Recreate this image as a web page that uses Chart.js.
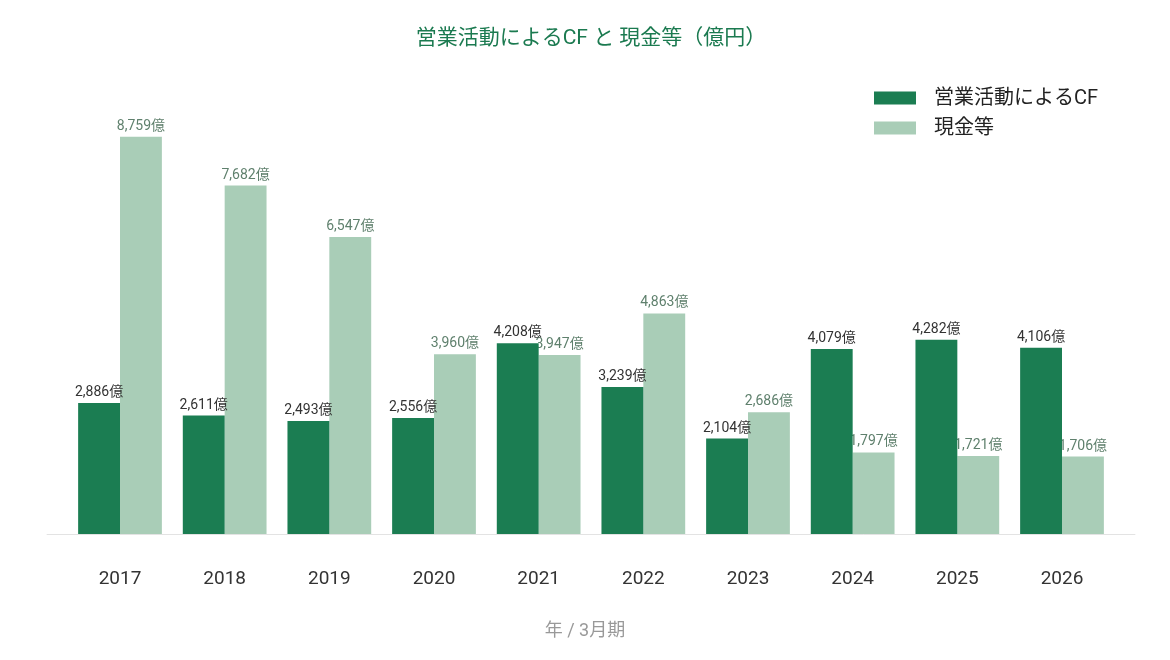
<!DOCTYPE html>
<html><head><meta charset="utf-8">
<script src="https://cdn.jsdelivr.net/npm/chart.js@4.4.1/dist/chart.umd.min.js"></script>
<style>html,body{margin:0;padding:0;background:#fff}#wrap{width:1170px;height:660px}</style>
</head><body><div id="wrap"><canvas id="c" width="1170" height="660"></canvas></div>
<script>
const years = ['2017','2018','2019','2020','2021','2022','2023','2024','2025','2026'];
const operatingCF = [2886, 2611, 2493, 2556, 4208, 3239, 2104, 4079, 4282, 4106];
const cashEtc = [8759, 7682, 6547, 3960, 3947, 4863, 2686, 1797, 1721, 1706];
const seriesNames = ['営業活動によるCF', '現金等'];
const titleText = '営業活動によるCF と 現金等（億円）';
const xTitle = '年 / 3月期';
const unit = '億';

const FONT = "Roboto, 'Noto Sans CJK JP', sans-serif";
const DARK = '#1b7d52';
const LIGHT = '#a9cdb7';
const labelColors = ['#333333', '#5f806d'];

const labelPlugin = {
  id: 'barLabels',
  afterDatasetDraw(chart, args) {
    const ctx = chart.ctx;
    const ds = chart.data.datasets[args.index];
    ctx.save();
    ctx.font = '14px ' + FONT;
    ctx.fillStyle = labelColors[args.index];
    ctx.textAlign = 'center';
    ctx.textBaseline = 'alphabetic';
    args.meta.data.forEach((el, i) => {
      ctx.fillText(ds.data[i].toLocaleString('en-US') + unit, el.x, el.y - 7);
    });
    ctx.restore();
  }
};
const baselinePlugin = {
  id: 'baseline',
  beforeDatasetsDraw(chart) {
    const {ctx, chartArea} = chart;
    ctx.save();
    ctx.strokeStyle = '#e3e3e3';
    ctx.lineWidth = 1;
    ctx.beginPath();
    ctx.moveTo(chartArea.left - 21, chartArea.bottom + 0.5);
    ctx.lineTo(chartArea.right + 21, chartArea.bottom + 0.5);
    ctx.stroke();
    ctx.restore();
  }
};
const legendPlugin = {
  id: 'customLegend',
  afterDraw(chart) {
    const ctx = chart.ctx;
    ctx.save();
    chart.data.datasets.forEach((ds, i) => {
      const y = 98 + i * 30;
      ctx.fillStyle = ds.backgroundColor;
      ctx.fillRect(874, y - 6.5, 42, 13);
      ctx.fillStyle = '#222';
      ctx.font = '20px ' + FONT;
      ctx.textBaseline = 'middle';
      ctx.textAlign = 'left';
      ctx.fillText(ds.label, 934, y + 1);
    });
    // x-axis title, centred on the page
    ctx.fillStyle = '#999';
    ctx.font = '18px ' + FONT;
    ctx.textAlign = 'center';
    ctx.textBaseline = 'middle';
    ctx.fillText(xTitle, chart.width / 2, 631);
    ctx.restore();
  }
};

new Chart(document.getElementById('c'), {
  type: 'bar',
  data: {
    labels: years,
    datasets: [
      { label: seriesNames[0], data: operatingCF, backgroundColor: DARK },
      { label: seriesNames[1], data: cashEtc, backgroundColor: LIGHT }
    ]
  },
  options: {
    responsive: false,
    animation: false,
    layout: { padding: { left: 67.67, right: 55.67, top: 0, bottom: 0 } },
    datasets: { bar: { categoryPercentage: 0.8, barPercentage: 1.0 } },
    plugins: {
      legend: { display: false },
      tooltip: { enabled: false },
      title: {
        display: true, text: titleText, color: '#1b7a50',
        font: { family: FONT, size: 21, weight: 'normal', lineHeight: 1.2 },
        padding: { top: 26, bottom: 29.2 }
      }
    },
    scales: {
      x: {
        grid: { display: false, drawTicks: false },
        border: { display: false },
        ticks: { color: '#333', font: { family: FONT, size: 19 }, padding: 34 },
        afterFit(s) { s.height = 126; }
      },
      y: { display: false, min: 0, max: 10000 }
    }
  },
  plugins: [labelPlugin, baselinePlugin, legendPlugin]
});
</script></body></html>
